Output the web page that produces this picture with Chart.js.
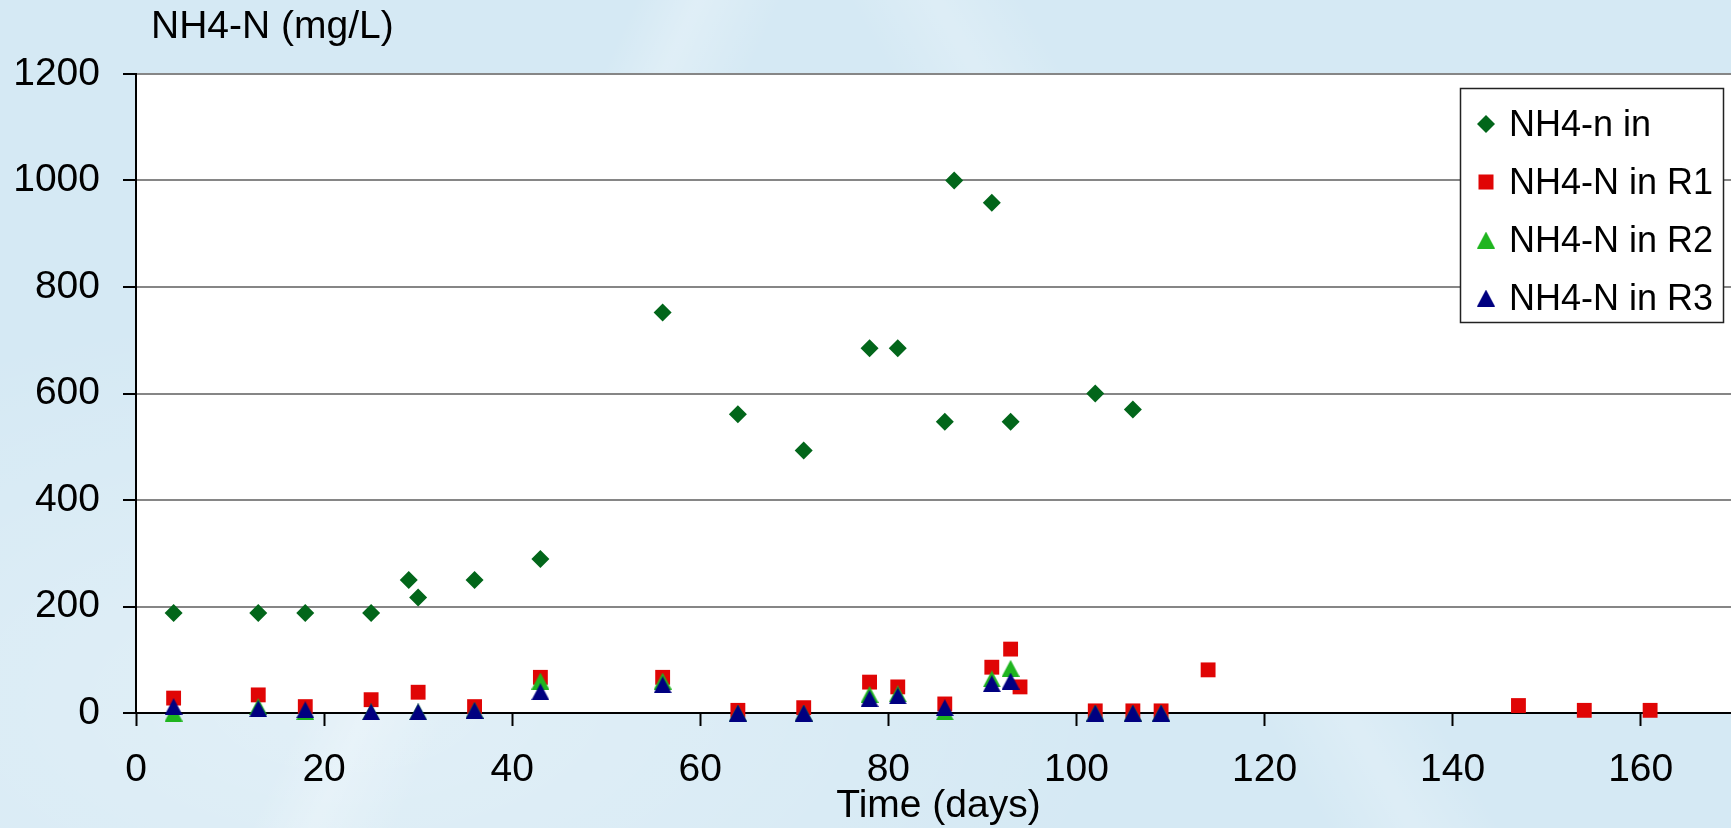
<!DOCTYPE html>
<html>
<head>
<meta charset="utf-8">
<script src="https://cdn.jsdelivr.net/npm/chart.js@4.4.1/dist/chart.umd.min.js"></script>
<style>
  html, body { margin: 0; padding: 0; overflow: hidden; }
  body {
    width: 1731px; height: 828px;
    background-color: #d5e9f4;
    background-image:
      linear-gradient(115deg, rgba(255,255,255,0) 30%, rgba(255,255,255,0.25) 33%, rgba(255,255,255,0) 37%),
      linear-gradient(60deg, rgba(255,255,255,0) 60%, rgba(255,255,255,0.2) 64%, rgba(255,255,255,0) 68%),
      radial-gradient(ellipse at 20% 85%, rgba(255,255,255,0.3), rgba(255,255,255,0) 40%);
  }
  canvas { display: block; }
</style>
</head>
<body>
<canvas id="nh4-chart" width="1731" height="828"></canvas>
<script>
// sampling days and NH4-N concentrations (mg/L)
const daysIn = [4, 13, 18, 25, 29, 30, 36, 43, 56, 64, 71, 78, 81, 86, 87, 91, 93, 102, 106];
const nh4In  = [188, 188, 188, 188, 250, 217, 250, 289, 752, 561, 493, 685, 685, 547, 1000, 958, 547, 600, 570];

const daysR1 = [4, 13, 18, 25, 30, 36, 43, 56, 64, 71, 78, 81, 86, 91, 93, 94, 102, 106, 109, 114, 147, 154, 161];
const nh4R1  = [28, 34, 12, 25, 39, 12, 67, 67, 5, 10, 58, 49, 17, 86, 120, 49, 4, 4, 4, 81, 14, 5, 5];

const daysR = [4, 13, 18, 25, 30, 36, 43, 56, 64, 71, 78, 81, 86, 91, 93, 102, 106, 109];
const nh4R2 = [0, 12, 3, 2, 2, 5, 60, 60, 0, 0, 35, 36, 2, 64, 84, 0, 0, 0];
const nh4R3 = [12, 8, 6, 2, 2, 5, 40, 53, 0, 0, 27, 32, 10, 55, 60, 0, 0, 0];

const seriesNames = ['NH4-n in', 'NH4-N in R1', 'NH4-N in R2', 'NH4-N in R3'];
const xTicks = [0, 20, 40, 60, 80, 100, 120, 140, 160];
const yTicks = [0, 200, 400, 600, 800, 1000, 1200];

const FONT = "'Liberation Sans', Arial, sans-serif";
const GREEN_DARK = '#02661a';
const RED = '#e00505';
const GREEN = '#1fb51f';
const NAVY = '#000080';

// triangle marker centred on its bounding box
function makeTriangle(color) {
  const c = document.createElement('canvas');
  c.width = 18; c.height = 17;
  const g = c.getContext('2d');
  g.fillStyle = color;
  g.beginPath();
  g.moveTo(9, 0);
  g.lineTo(18, 17);
  g.lineTo(0, 17);
  g.closePath();
  g.fill();
  return c;
}
const triGreen = makeTriangle(GREEN);
const triNavy = makeTriangle(NAVY);

const toPoints = (xs, ys) => xs.map((x, i) => ({ x: x, y: ys[i] }));

const plotBackground = {
  id: 'plotBackground',
  beforeDraw: (chart) => {
    const {ctx, chartArea} = chart;
    ctx.save();
    ctx.fillStyle = '#ffffff';
    ctx.fillRect(chartArea.left, chartArea.top, chartArea.right - chartArea.left, chartArea.bottom - chartArea.top);
    ctx.restore();
  }
};

// axis titles and the boxed legend in the upper right corner
const annotations = {
  id: 'annotations',
  afterDraw: (chart) => {
    const {ctx, chartArea} = chart;
    ctx.save();
    ctx.fillStyle = '#000';
    ctx.font = '39px ' + FONT;
    ctx.textBaseline = 'alphabetic';
    ctx.textAlign = 'left';
    ctx.fillText('NH4-N (mg/L)', 151, 38);
    ctx.textAlign = 'center';
    ctx.fillText('Time (days)', (chartArea.left + chartArea.right) / 2 + 5, 817);

    // legend
    const bx = chartArea.right - 271, by = chartArea.top + 14;
    const bw = 263, bh = 234;
    ctx.fillStyle = '#fff';
    ctx.fillRect(bx, by, bw, bh);
    ctx.strokeStyle = '#222';
    ctx.lineWidth = 1.5;
    ctx.strokeRect(bx + 0.5, by + 0.5, bw, bh);

    const mx = bx + 26;
    ctx.font = '36px ' + FONT;
    ctx.textAlign = 'left';
    ctx.textBaseline = 'middle';
    seriesNames.forEach((name, i) => {
      const my = by + 36 + i * 58;
      if (i === 0) {
        ctx.fillStyle = GREEN_DARK;
        ctx.beginPath();
        ctx.moveTo(mx, my - 9);
        ctx.lineTo(mx + 9, my);
        ctx.lineTo(mx, my + 9);
        ctx.lineTo(mx - 9, my);
        ctx.closePath();
        ctx.fill();
      } else if (i === 1) {
        ctx.fillStyle = RED;
        ctx.fillRect(mx - 7.5, my - 7.5, 15, 15);
      } else {
        const img = i === 2 ? triGreen : triNavy;
        ctx.drawImage(img, mx - img.width / 2, my - img.height / 2);
      }
      ctx.fillStyle = '#000';
      ctx.fillText(name, bx + 49, my + 2);
    });
    ctx.restore();
  }
};

document.addEventListener('DOMContentLoaded', function () {
  const ctx = document.getElementById('nh4-chart').getContext('2d');

  new Chart(ctx, {
    type: 'scatter',
    data: {
      datasets: [
        {
          label: seriesNames[0],
          data: toPoints(daysIn, nh4In),
          pointStyle: 'rectRot',
          pointRadius: 9,
          backgroundColor: GREEN_DARK,
          borderWidth: 0,
          clip: false,
          order: 3
        },
        {
          label: seriesNames[1],
          data: toPoints(daysR1, nh4R1),
          pointStyle: 'rect',
          pointRadius: 10.5,
          backgroundColor: RED,
          borderWidth: 0,
          clip: false,
          order: 2
        },
        {
          label: seriesNames[2],
          data: toPoints(daysR, nh4R2),
          pointStyle: triGreen,
          clip: false,
          order: 1
        },
        {
          label: seriesNames[3],
          data: toPoints(daysR, nh4R3),
          pointStyle: triNavy,
          clip: false,
          order: 0
        }
      ]
    },
    options: {
      responsive: false,
      animation: false,
      events: [],
      devicePixelRatio: 1,
      layout: {
        autoPadding: false,
        padding: { top: 74, right: 0, left: 0, bottom: 0 }
      },
      plugins: {
        legend: { display: false },
        tooltip: { enabled: false }
      },
      scales: {
        x: {
          type: 'linear',
          position: 'bottom',
          min: 0,
          max: 169.6,
          afterBuildTicks: (axis) => {
            axis.ticks = xTicks.map(v => ({ value: v }));
          },
          afterFit: (axis) => {
            axis.height = 115;
            axis.paddingLeft = 0;
            axis.paddingRight = 0;
          },
          grid: {
            drawOnChartArea: false,
            drawTicks: true,
            tickLength: 13,
            tickColor: '#000',
            tickWidth: 2
          },
          border: { display: true, color: '#000', width: 2 },
          ticks: {
            color: '#000',
            padding: 21,
            maxRotation: 0,
            font: { family: FONT, size: 39 },
            callback: (v) => String(v)
          }
        },
        y: {
          min: 0,
          max: 1200,
          afterBuildTicks: (axis) => {
            axis.ticks = yTicks.map(v => ({ value: v }));
          },
          afterFit: (axis) => {
            axis.width = 136;
            axis.paddingTop = 0;
            axis.paddingBottom = 0;
          },
          grid: {
            color: '#868686',
            lineWidth: 2,
            drawTicks: true,
            tickLength: 13,
            tickColor: '#000',
            tickWidth: 2
          },
          border: { display: true, color: '#000', width: 2 },
          ticks: {
            color: '#000',
            padding: 23,
            font: { family: FONT, size: 39 },
            callback: (v) => String(v)
          }
        }
      }
    },
    plugins: [plotBackground, annotations]
  });
});
</script>
</body>
</html>
